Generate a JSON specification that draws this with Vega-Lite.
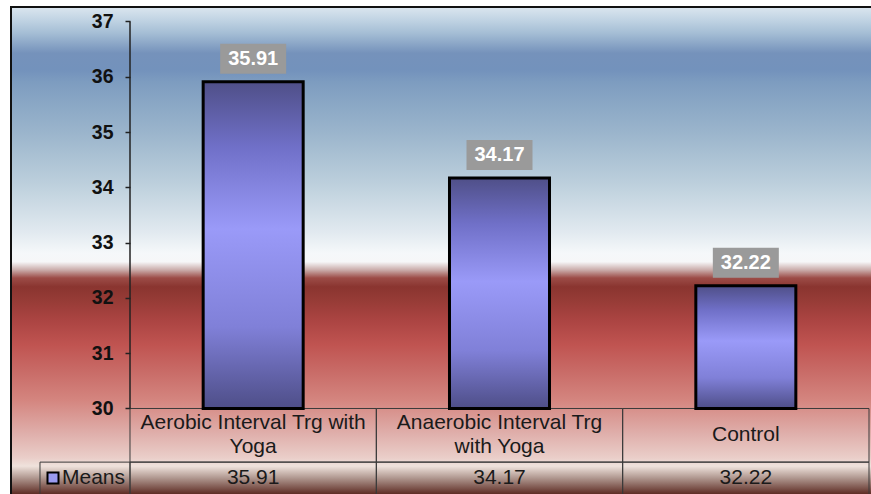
{
  "$schema": "https://vega.github.io/schema/vega-lite/v6.json",
  "width": 864,
  "height": 490,
  "autosize": {"type": "none"},
  "padding": {"left": 11, "top": 7, "right": 0, "bottom": 0},
  "background": "white",
  "config": {
    "font": "Liberation Sans",
    "view": {
      "stroke": "#111111",
      "strokeWidth": 2,
      "fill": {
        "gradient": "linear", "x1": 0, "y1": 0, "x2": 0, "y2": 1,
        "stops": [
          {"offset": 0.0, "color": "#dbe6ef"},
          {"offset": 0.027, "color": "#c0d3e3"},
          {"offset": 0.053, "color": "#a5bed5"},
          {"offset": 0.094, "color": "#7592bb"},
          {"offset": 0.129, "color": "#7392bc"},
          {"offset": 0.155, "color": "#7e9dc0"},
          {"offset": 0.257, "color": "#9bb5cc"},
          {"offset": 0.359, "color": "#bccfdc"},
          {"offset": 0.461, "color": "#e2eaf0"},
          {"offset": 0.502, "color": "#f5f8fa"},
          {"offset": 0.520, "color": "#f6f7f8"},
          {"offset": 0.537, "color": "#c9aaa8"},
          {"offset": 0.553, "color": "#9c4c47"},
          {"offset": 0.571, "color": "#8a3530"},
          {"offset": 0.598, "color": "#963b36"},
          {"offset": 0.639, "color": "#ab4442"},
          {"offset": 0.690, "color": "#c05451"},
          {"offset": 0.741, "color": "#c86a66"},
          {"offset": 0.802, "color": "#d4857f"},
          {"offset": 0.869, "color": "#dfaeaa"},
          {"offset": 0.920, "color": "#eacec9"},
          {"offset": 0.937, "color": "#efe2dc"},
          {"offset": 0.961, "color": "#b09890"},
          {"offset": 0.994, "color": "#5e2c24"},
          {"offset": 1.0, "color": "#5a2820"}
        ]
      }
    }
  },
  "data": {
    "values": [
      {"group": "Aerobic Interval Trg with Yoga", "label": "Aerobic Interval Trg with\nYoga", "lines": 2, "mean": 35.91},
      {"group": "Anaerobic Interval Trg with Yoga", "label": "Anaerobic Interval Trg\nwith Yoga", "lines": 2, "mean": 34.17},
      {"group": "Control", "label": "Control", "lines": 1, "mean": 32.22}
    ]
  },
  "encoding": {
    "x": {
      "field": "group", "type": "nominal", "sort": null,
      "scale": {"range": [119, 858], "paddingInner": 0, "paddingOuter": 0},
      "axis": null
    }
  },
  "layer": [
    {
      "mark": {"type": "rect", "fill": "transparent", "stroke": "#3a3a3a", "strokeWidth": 1},
      "encoding": {
        "y": {"datum": 30, "type": "quantitative",
          "scale": {"domain": [28.399, 37.262], "nice": false, "zero": false},
          "axis": {
            "orient": "left", "offset": -119, "values": [30, 31, 32, 33, 34, 35, 36, 37],
            "format": "d",
            "domain": false, "grid": false, "title": null,
            "labelFontSize": 19.5, "labelFontWeight": "bold", "labelColor": "#111111",
            "tickColor": "#222222", "tickSize": 5, "tickWidth": 1.5, "labelPadding": 12
          }
        },
        "y2": {"datum": 29.03}
      }
    },
    {
      "mark": {"type": "rect", "fill": "transparent", "stroke": "#3a3a3a", "strokeWidth": 1},
      "encoding": {
        "y": {"datum": 29.03, "type": "quantitative"},
        "y2": {"datum": 28.2}
      }
    },
    {
      "data": {"values": [{"series": "Means"}]},
      "mark": {"type": "rect", "fill": "transparent", "stroke": "#3a3a3a", "strokeWidth": 1},
      "encoding": {
        "x": {"datum": "Aerobic Interval Trg with Yoga", "bandPosition": -0.3654},
        "x2": {"datum": "Aerobic Interval Trg with Yoga", "bandPosition": 0},
        "y": {"datum": 29.03, "type": "quantitative"},
        "y2": {"datum": 28.2}
      }
    },
    {
      "data": {"values": [{"series": "Means"}]},
      "mark": {"type": "rule", "color": "#222222", "strokeWidth": 1.5},
      "encoding": {
        "x": {"datum": "Aerobic Interval Trg with Yoga", "bandPosition": 0},
        "y": {"datum": 37, "type": "quantitative"},
        "y2": {"datum": 30}
      }
    },
    {
      "mark": {
        "type": "bar", "width": {"band": 0.406}, "stroke": "#000000", "strokeWidth": 3,
        "fill": {
          "gradient": "linear", "x1": 0, "y1": 0, "x2": 0, "y2": 1,
          "stops": [
            {"offset": 0, "color": "#4f4f88"},
            {"offset": 0.2, "color": "#7070c8"},
            {"offset": 0.45, "color": "#9a9af8"},
            {"offset": 0.75, "color": "#8080d8"},
            {"offset": 1, "color": "#4e4e88"}
          ]
        }
      },
      "encoding": {
        "y": {"field": "mean", "type": "quantitative"},
        "y2": {"datum": 30}
      }
    },
    {
      "mark": {"type": "point", "shape": "M-1,-0.4545H1V0.4545H-1Z", "size": 4356, "filled": true, "fill": "#9a9a9a", "opacity": 1, "strokeWidth": 0, "yOffset": -23},
      "encoding": {
        "y": {"field": "mean", "type": "quantitative"}
      }
    },
    {
      "mark": {"type": "text", "color": "#ffffff", "fontSize": 20, "fontWeight": "bold", "baseline": "middle", "align": "center", "yOffset": -23},
      "encoding": {
        "y": {"field": "mean", "type": "quantitative"},
        "text": {"field": "mean", "type": "quantitative", "format": ".2f"}
      }
    },
    {
      "transform": [{"filter": "datum.lines == 2"}],
      "mark": {"type": "text", "color": "#1a1a1a", "fontSize": 21, "lineBreak": "\n", "lineHeight": 24, "baseline": "middle", "align": "center"},
      "encoding": {
        "y": {"datum": 29.729, "type": "quantitative"},
        "text": {"field": "label", "type": "nominal"}
      }
    },
    {
      "transform": [{"filter": "datum.lines == 1"}],
      "mark": {"type": "text", "color": "#1a1a1a", "fontSize": 21, "baseline": "middle", "align": "center"},
      "encoding": {
        "y": {"datum": 29.52, "type": "quantitative"},
        "text": {"field": "label", "type": "nominal"}
      }
    },
    {
      "mark": {"type": "text", "color": "#1a1a1a", "fontSize": 21, "baseline": "middle", "align": "center"},
      "encoding": {
        "y": {"datum": 28.743, "type": "quantitative"},
        "text": {"field": "mean", "type": "quantitative", "format": ".2f"}
      }
    },
    {
      "data": {"values": [{"series": "Means"}]},
      "mark": {"type": "point", "shape": "square", "size": 121, "filled": true, "fill": "#9b9bf0", "stroke": "#000000", "strokeWidth": 2, "opacity": 1},
      "encoding": {
        "x": {"datum": "Aerobic Interval Trg with Yoga", "bandPosition": -0.3126},
        "y": {"datum": 28.743, "type": "quantitative"}
      }
    },
    {
      "data": {"values": [{"series": "Means"}]},
      "mark": {"type": "text", "color": "#1a1a1a", "fontSize": 21, "baseline": "middle", "align": "left"},
      "encoding": {
        "x": {"datum": "Aerobic Interval Trg with Yoga", "bandPosition": -0.276},
        "y": {"datum": 28.743, "type": "quantitative"},
        "text": {"field": "series", "type": "nominal"}
      }
    }
  ]
}
